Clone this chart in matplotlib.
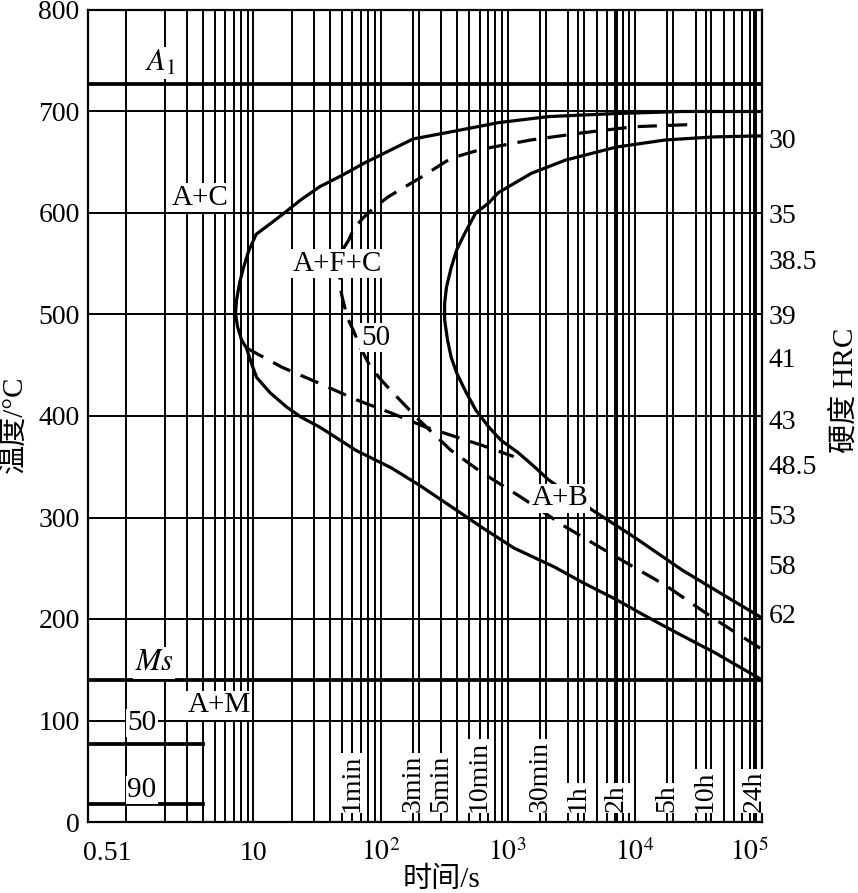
import matplotlib.pyplot as plt
from matplotlib.ticker import NullLocator

plt.rcParams['font.family'] = ['Liberation Serif', 'Noto Sans CJK SC']
plt.rcParams['mathtext.fontset'] = 'stix'

# curva de inicio de transformacion (linea continua exterior), tiempo en s / temperatura en C
t_inicio = [1e5, 23700, 7170, 2100, 843, 359, 181, 129, 74, 49.6, 33.3, 23.6, 17.5, 13.1,
            10.5, 9.14, 8.35, 7.78, 7.36, 7.23, 7.5, 8.06, 8.81, 9.64, 10.6, 13.5, 18.2,
            23.6, 33.3, 64.4, 121, 201, 398, 631, 1117, 2350, 3880, 7170, 11700, 20900,
            42300, 1e5]
T_inicio = [700, 700, 698, 695, 689, 680, 673, 664, 649, 637, 626, 613, 600, 588,
            579, 562, 546, 531, 514, 501, 488, 475, 467, 452, 438, 423, 409,
            399, 389, 366, 349, 332, 307, 290, 270, 251, 236, 219, 204, 187,
            167, 140]

# curva de fin de transformacion (linea continua interior)
t_fin = [1e5, 42300, 17500, 7170, 2830, 1530, 843, 711, 560, 464, 398, 359, 330, 319, 319,
         336, 359, 398, 472, 560, 711, 887, 1205, 1622, 2100, 4670, 9800, 23700, 42300, 1e5]
T_fin = [676, 675, 672, 665, 652, 639, 620, 610, 600, 581, 564, 546, 527, 511, 495,
         475, 458, 442, 423, 406, 389, 376, 364, 350, 337, 307, 281, 248, 229, 201]

# curva 50 % (discontinua)
t_50 = [25800, 9800, 3880, 1530, 631, 359, 201, 115, 90.5, 74, 61.8, 56, 51.6, 47.7, 48.6,
        50.6, 54.8, 60.7, 71.1, 83.5, 102, 125, 201, 359, 631, 1273, 2830, 7170, 17500,
        42300, 1e5]
T_50 = [687, 685, 679, 672, 663, 654, 634, 616, 606, 596, 585, 573, 566, 534, 524,
        514, 497, 485, 465, 448, 435, 423, 396, 366, 344, 320, 291, 261, 233,
        200, 170]

# rama discontinua bajo la nariz
t_rama = [8.81, 16.8, 33.3, 64.4, 121, 227, 359, 631, 1117]
T_rama = [467, 448, 432, 416, 403, 389, 381, 371, 360]

A1 = 727
Ms = 140
T_temple = [77, 18]
temple_txt = ['50', '90']

hrc_txt = ['30', '35', '38.5', '39', '41', '43', '48.5', '53', '58', '62']
hrc_T = [670, 597, 551, 497, 455, 394, 349, 300, 251, 202]

tiempos = [60, 180, 300, 600, 1800, 3600, 7200, 18000, 36000, 86400]
tiempos_txt = ['1min', '3min', '5min', '10min', '30min', '1h', '2h', '5h', '10h', '24h']

xticks = [10, 100, 1e3, 1e4, 1e5]
xticks_txt = ['10', r'$10^2$', r'$10^3$', r'$10^4$', r'$10^5$']

regiones = ['A+C', 'A+F+C', '50', 'A+B', 'A+M']
reg_t = [3.79, 45.8, 92, 2580, 5.4]
reg_T = [615, 550, 477, 319, 115]

fig = plt.figure(figsize=(8.58, 8.93), dpi=100)
ax = fig.add_axes([88 / 858, 71 / 893, 674 / 858, 812 / 893])
ax.set_xscale('log')
ax.set_xlim(0.5, 1e5)
ax.set_ylim(0, 800)

# rejilla
for k in range(5):
    for m in range(1, 10):
        ax.axvline(m * 10 ** k, color='black', lw=1.4, zorder=1)
for t in tiempos:
    ax.axvline(t, color='black', lw=1.4, zorder=1)
for T in range(100, 800, 100):
    ax.axhline(T, color='black', lw=1.4, zorder=1)

ax.axhline(A1, color='black', lw=2.7, zorder=2)
ax.axhline(Ms, color='black', lw=2.7, zorder=2)
for T in T_temple:
    ax.plot([0.5, 4], [T, T], color='black', lw=2.7, zorder=2)

ax.plot(t_inicio, T_inicio, color='black', lw=2.3, zorder=3, solid_joinstyle='round')
ax.plot(t_fin, T_fin, color='black', lw=2.3, zorder=3, solid_joinstyle='round')
ax.plot(t_50, T_50, color='black', lw=2.3, ls=(0, (6, 3.5)), zorder=3)
ax.plot(t_rama, T_rama, color='black', lw=2.3, ls=(0, (6, 3.5)), zorder=3)

caja = dict(facecolor='white', edgecolor='none', pad=1.0)
for s, t, T in zip(regiones, reg_t, reg_T):
    ax.text(t, T, s, fontsize=21, ha='center', va='center', bbox=caja, zorder=5)
ax.text(1.84, 748, r'$A_{\mathrm{1}}$', fontsize=22, ha='center', va='center', bbox=caja, zorder=5)
ax.text(1.66, 157, r'$Ms$', fontsize=22, ha='center', va='center', bbox=caja, zorder=5)
ax.text(1.33, 97.5, temple_txt[0], fontsize=21, ha='center', va='center', bbox=caja, zorder=5)
ax.text(1.33, 31.5, temple_txt[1], fontsize=21, ha='center', va='center', bbox=caja, zorder=5)

for t, s in zip(tiempos, tiempos_txt):
    ax.text(t, 10, s, fontsize=20, rotation=90, ha='center', va='bottom', bbox=caja, zorder=5)

for T, s in zip(hrc_T, hrc_txt):
    ax.text(1.01, T, s, fontsize=20, ha='left', va='center',
            transform=ax.get_yaxis_transform())

# ejes
ax.xaxis.set_major_locator(NullLocator())
ax.xaxis.set_minor_locator(NullLocator())
for x, s in zip(xticks, xticks_txt):
    dx = -9 if x == 1e5 else 0
    ax.annotate(s, xy=(x, 0), xycoords=('data', 'axes fraction'), xytext=(dx, -27.4),
                textcoords='offset points', ha='center', va='baseline', fontsize=20)
ax.annotate('0.51', xy=(0.5, 0), xycoords=('data', 'axes fraction'), xytext=(-3.6, -27.4),
            textcoords='offset points', ha='left', va='baseline', fontsize=20)

ax.set_yticks(range(0, 801, 100))
ax.tick_params(axis='y', length=0, pad=6, labelsize=20)
for sp in ax.spines.values():
    sp.set_linewidth(1.6)

ax.text(-0.11, 0.49, '温度/°C', rotation=90, fontsize=21, ha='center', va='center',
        transform=ax.transAxes)
ax.text(1.123, 0.532, '硬度 HRC', rotation=90, fontsize=21, ha='center', va='center',
        transform=ax.transAxes)
ax.text(0.524, -0.071, '时间/s', fontsize=21, ha='center', va='center', transform=ax.transAxes)

plt.savefig('out.png', dpi=100)
